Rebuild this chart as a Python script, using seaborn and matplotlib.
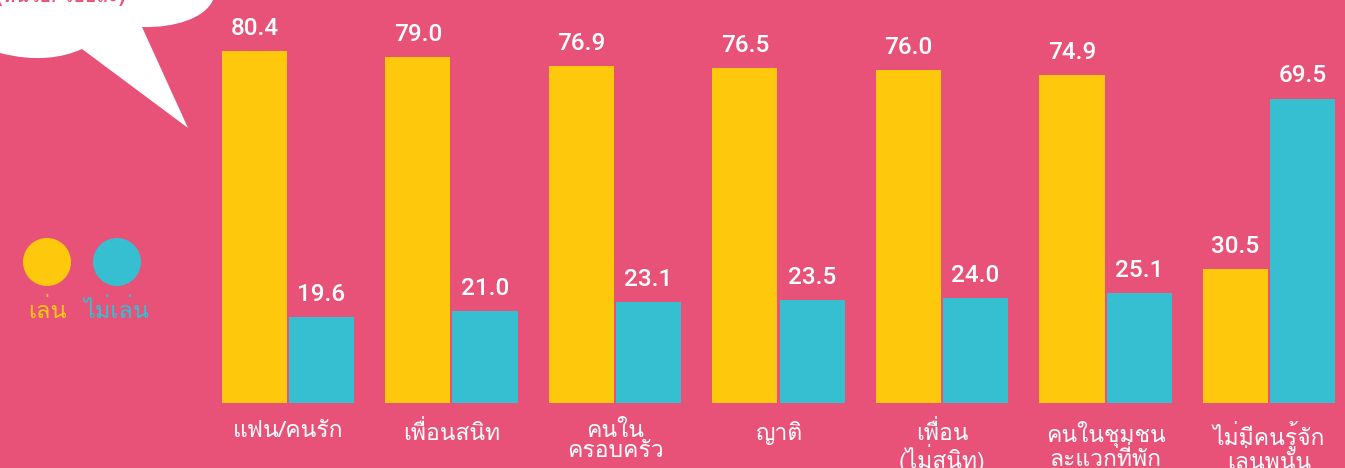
import numpy as np
import pandas as pd
import matplotlib
matplotlib.use("Agg")
import matplotlib.pyplot as plt
import seaborn as sns
from matplotlib import font_manager
from matplotlib.ft2font import FT2Font
from matplotlib.path import Path
from matplotlib.patches import PathPatch, Circle

# ---------------- data ----------------
categories = ["แฟน/คนรัก", "เพื่อนสนิท", "คนใน\nครอบครัว", "ญาติ",
              "เพื่อน\n(ไม่สนิท)", "คนในชุมชน\nละแวกที่พัก", "ไม่มีคนรู้จัก\nเล่นพนัน"]
play = [80.4, 79.0, 76.9, 76.5, 76.0, 74.9, 30.5]
not_play = [19.6, 21.0, 23.1, 23.5, 24.0, 25.1, 69.5]
series_names = ["เล่น", "ไม่เล่น"]
bubble_text = "(หน่วย: ร้อยละ)"

PINK = "#E85178"
YELLOW = "#FEC90C"
CYAN = "#35BFD0"
WHITE = "#FFFFFF"

# ---------------- fonts ----------------
sns.set_theme(style="white")
fams = []
for f in font_manager.fontManager.ttflist:
    try:
        cm = FT2Font(f.fname).get_charmap()
        if 0x0E01 in cm and 0x0E48 in cm and f.name not in fams:
            fams.append(f.name)
    except Exception:
        pass
num_fam = ["Roboto", "DejaVu Sans"]
text_fam = (fams[:1] if fams else []) + ["DejaVu Sans"]
plt.rcParams["font.family"] = text_fam

df = pd.DataFrame({
    "cat": categories * 2,
    "val": play + not_play,
    "series": [series_names[0]] * len(play) + [series_names[1]] * len(not_play),
})

W, H = 1345, 468
fig = plt.figure(figsize=(W / 100, H / 100), dpi=100, facecolor=PINK)

# background overlay in pixel coordinates
bg = fig.add_axes([0, 0, 1, 1])
bg.set_xlim(0, W)
bg.set_ylim(H, 0)
bg.axis("off")
bg.set_facecolor("none")

verts = [(0, 0), (213, 0),
         (205, 18), (175, 28), (142, 27),
         (188, 128),
         (82, 49),
         (62, 58), (35, 62), (0, 53),
         (0, 0)]
codes = [Path.MOVETO, Path.LINETO,
         Path.CURVE4, Path.CURVE4, Path.CURVE4,
         Path.LINETO,
         Path.LINETO,
         Path.CURVE4, Path.CURVE4, Path.CURVE4,
         Path.CLOSEPOLY]
bg.add_patch(PathPatch(Path(verts, codes), facecolor=WHITE, edgecolor="none"))
bg.text(-4, 2, bubble_text, color=PINK, fontsize=14, fontweight="bold",
        ha="left", va="baseline", family=text_fam)

# legend
bg.add_patch(Circle((47, 262), 24, facecolor=YELLOW, edgecolor="none"))
bg.add_patch(Circle((117, 262), 24, facecolor=CYAN, edgecolor="none"))
bg.text(47, 311, series_names[0], color=YELLOW, fontsize=17, ha="center", va="center", family=text_fam)
bg.text(117, 311, series_names[1], color=CYAN, fontsize=17, ha="center", va="center", family=text_fam)

# main chart
left_px, right_px = 214.4, 1342.6
base_px = 403
ymax = 90
scale = 4.38
ax = fig.add_axes([left_px / W, (H - base_px) / H, (right_px - left_px) / W, ymax * scale / H])
ax.set_facecolor("none")
sns.barplot(data=df, x="cat", y="val", hue="series", palette=[YELLOW, CYAN],
            width=0.82, gap=0.03, ax=ax, legend=False, saturation=1, linewidth=0)
ax.set_xlim(-0.45, 6.45)
ax.set_ylim(0, ymax)
for c in ax.containers:
    ax.bar_label(c, fmt="%.1f", padding=8, color=WHITE, fontsize=17.5,
                 fontweight="medium", family=num_fam)
ax.set_xlabel("")
ax.set_ylabel("")
ax.set_yticks([])
ax.set_xticks(range(len(categories)))
ax.set_xticklabels(categories, color=WHITE, fontsize=16.5, linespacing=0.95)
ax.tick_params(axis="x", length=0, pad=13)
for s in ax.spines.values():
    s.set_visible(False)

fig.savefig("out.png", dpi=100, facecolor=PINK)
